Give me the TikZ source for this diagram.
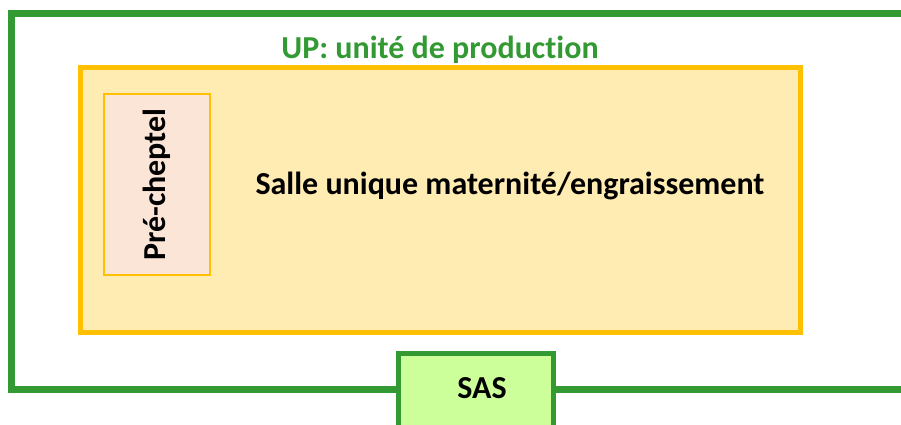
\documentclass[tikz,border=0pt]{standalone}
\usepackage{fontspec}
\setmainfont[RawFeature=-liga]{Carlito}
\definecolor{upgreen}{HTML}{339933}
\definecolor{salleline}{HTML}{FFC000}
\definecolor{sallefill}{HTML}{FFECB3}
\definecolor{prefill}{HTML}{FBE5D6}
\definecolor{sasfill}{HTML}{CCFF99}
\begin{document}
\begin{tikzpicture}[x=1pt,y=1pt,
    every node/.style={font=\bfseries\fontsize{32}{34}\selectfont},
    salle/.style={draw=salleline,fill=sallefill,line width=5pt,minimum width=720pt,minimum height=264pt,inner sep=0pt},
    prebox/.style={draw=salleline,fill=prefill,line width=2.5pt,minimum width=106pt,minimum height=181pt,inner sep=0pt},
    sasbox/.style={draw=upgreen,fill=sasfill,line width=5pt,minimum width=155pt,minimum height=84pt,inner sep=0pt}]
    
    \useasboundingbox (0,0) rectangle (901,424);
    
    % unite de production
    \draw[upgreen,line width=7pt] (905,410) -- (11,410) -- (11,35) -- (905,35);
    \node[text=upgreen] (up) at (440,374) {UP: unité de production};
    
    % salle
    \node[salle] (salle) at (440,224) {};
    \node[prebox] (pre) at (157,239.5) {};
    \node[rotate=90] (pretext) at (pre.center) {Pré-cheptel};
    \node (salletext) at (510,238) {Salle unique maternité/engraissement};
    
    % sas
    \node[sasbox] (sas) at (475.5,29) {};
    \node (sastext) at (482,36) {SAS};
    
\end{tikzpicture}
\end{document}
